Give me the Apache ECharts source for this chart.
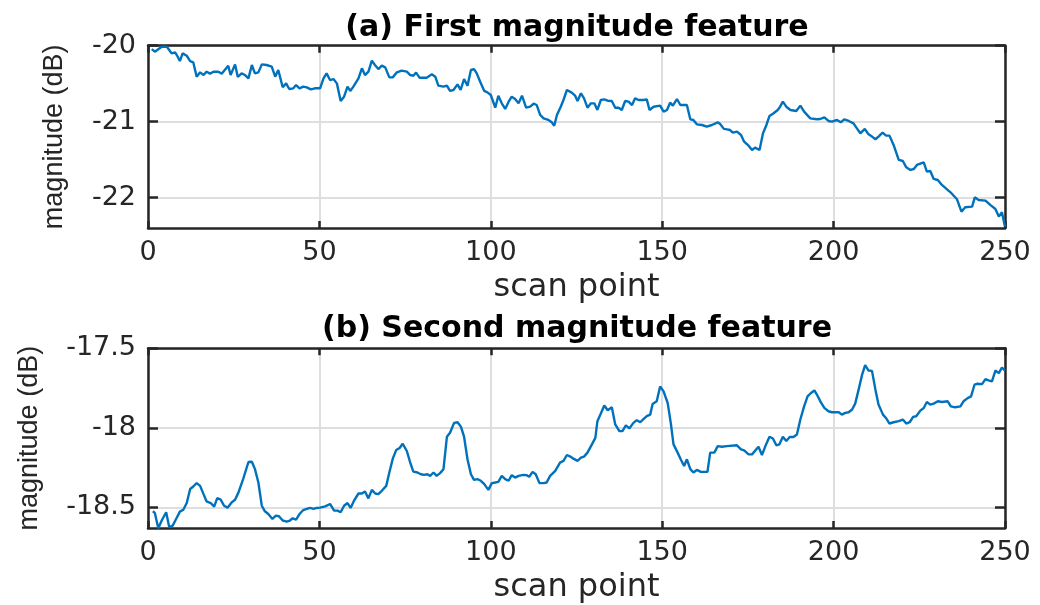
<!DOCTYPE html>
<html>
<head>
<meta charset="utf-8">
<script src="https://cdn.jsdelivr.net/npm/echarts@6/dist/echarts.min.js"></script>
<style>
html,body{margin:0;padding:0;background:#fff;}
#chart{width:1040px;height:605px;}
</style>
</head>
<body>
<div id="chart"></div>
<script>
// ---- data ----
const titleTop = '(a) First magnitude feature';
const titleBottom = '(b) Second magnitude feature';
const xName = 'scan point';
const yName = 'magnitude (dB)';
const xTicks = [0, 50, 100, 150, 200, 250];
const yTicksTop = [-22, -21, -20];
const yTicksBottom = [-18.5, -18, -17.5];

const scanTop = [1.1,2.0,4.0,5.5,6.9,7.9,8.4,9.3,10.1,11.3,12.3,13.2,14.2,15.2,16.2,17.1,18.1,19.1,20.5,21.5,23.4,24.1,25.4,26.2,27.3,28.3,29.3,30.3,31.2,32.2,33.2,34.6,36.1,37.1,38.0,39.3,40.3,41.2,42.4,43.2,44.2,45.3,46.3,47.5,48.7,50.2,51.2,52.1,53.1,54.1,55.1,56.2,57.2,58.2,59.0,59.9,61.4,62.4,63.3,64.3,65.3,66.2,67.2,68.2,69.2,70.4,71.4,72.6,74.0,75.5,76.5,77.4,78.2,79.2,81.3,82.8,83.8,84.7,86.2,87.2,88.1,89.1,90.3,91.2,92.2,93.2,94.2,95.1,95.9,96.9,98.1,99.0,100.0,101.3,102.2,103.2,104.2,105.2,106.1,107.1,108.1,109.1,110.3,111.5,112.5,113.4,114.4,115.4,116.8,117.8,118.5,119.3,120.4,121.2,122.2,123.6,124.6,125.3,126.3,127.2,128.2,129.2,130.2,131.1,132.1,133.1,134.1,135.3,136.3,137.3,138.2,139.2,140.2,141.2,142.1,143.1,144.6,145.5,146.3,147.5,149.4,150.4,151.4,152.3,153.1,154.3,155.3,157.2,158.2,159.1,160.1,161.6,163.0,164.5,166.2,166.9,168.0,168.9,169.8,170.6,171.8,173.0,173.9,175.2,176.2,177.1,178.4,179.4,180.4,181.3,182.5,183.7,184.4,185.2,186.2,187.4,189.1,190.3,191.4,193.2,195.1,196.1,197.3,198.5,199.5,201.0,202.1,203.1,204.4,205.8,206.8,207.8,209.1,210.2,211.2,212.2,213.1,214.3,215.3,216.3,217.5,219.0,220.2,221.2,222.4,223.4,224.3,226.3,227.2,228.2,229.2,230.4,231.6,234.1,236.0,237.3,238.4,240.4,241.2,242.3,244.3,245.7,247.2,248.2,249.1,250.0];
const magTop = [-20.044,-20.079,-20.013,-20.013,-20.101,-20.088,-20.123,-20.202,-20.101,-20.132,-20.202,-20.219,-20.408,-20.351,-20.386,-20.342,-20.368,-20.342,-20.342,-20.368,-20.263,-20.386,-20.246,-20.412,-20.364,-20.386,-20.430,-20.254,-20.364,-20.351,-20.246,-20.254,-20.276,-20.408,-20.320,-20.548,-20.496,-20.570,-20.561,-20.518,-20.561,-20.539,-20.548,-20.575,-20.561,-20.561,-20.430,-20.364,-20.452,-20.439,-20.496,-20.728,-20.671,-20.539,-20.596,-20.539,-20.430,-20.298,-20.386,-20.342,-20.197,-20.254,-20.307,-20.263,-20.285,-20.417,-20.417,-20.351,-20.329,-20.342,-20.386,-20.395,-20.355,-20.421,-20.421,-20.377,-20.408,-20.526,-20.539,-20.526,-20.596,-20.583,-20.509,-20.583,-20.439,-20.526,-20.320,-20.307,-20.364,-20.474,-20.596,-20.614,-20.649,-20.816,-20.658,-20.759,-20.833,-20.737,-20.671,-20.702,-20.759,-20.658,-20.816,-20.803,-20.763,-20.781,-20.912,-20.956,-20.978,-21.009,-21.053,-20.912,-20.803,-20.715,-20.583,-20.618,-20.658,-20.728,-20.627,-20.693,-20.816,-20.759,-20.759,-20.846,-20.715,-20.706,-20.724,-20.728,-20.816,-20.816,-20.846,-20.728,-20.737,-20.781,-20.693,-20.715,-20.715,-20.706,-20.846,-20.803,-20.789,-20.868,-20.846,-20.750,-20.789,-20.702,-20.781,-20.781,-20.969,-20.978,-21.035,-21.044,-21.066,-21.044,-21.009,-21.030,-21.095,-21.101,-21.110,-21.145,-21.132,-21.175,-21.263,-21.316,-21.373,-21.342,-21.373,-21.154,-21.044,-20.925,-20.890,-20.846,-20.803,-20.737,-20.803,-20.846,-20.860,-20.789,-20.868,-20.956,-20.969,-20.965,-20.943,-20.991,-21.000,-20.978,-21.009,-20.969,-20.991,-21.022,-21.088,-21.154,-21.096,-21.167,-21.197,-21.232,-21.197,-21.145,-21.184,-21.184,-21.307,-21.504,-21.518,-21.601,-21.636,-21.623,-21.570,-21.535,-21.658,-21.649,-21.754,-21.768,-21.833,-21.930,-22.022,-22.184,-22.127,-22.118,-21.996,-22.031,-22.039,-22.096,-22.149,-22.250,-22.193,-22.382];

const scanBottom = [1.4,2.0,3.0,4.0,5.3,6.2,7.2,8.2,9.3,10.3,11.3,12.3,13.2,14.2,15.2,16.2,17.1,18.3,19.3,20.2,21.2,22.2,23.2,24.4,25.4,26.4,27.8,29.3,30.3,31.2,32.2,33.2,34.1,35.1,36.3,37.3,38.2,39.3,40.5,41.4,42.2,43.2,44.2,45.3,46.3,47.3,48.3,49.2,50.2,51.7,53.1,54.3,55.3,56.2,57.2,58.2,59.1,60.1,61.4,62.4,63.3,64.3,65.3,66.3,67.2,68.2,69.5,70.4,71.4,72.4,73.4,74.3,75.5,76.5,77.4,78.6,79.6,80.5,81.5,82.3,83.3,84.2,85.2,86.2,87.2,88.1,89.3,90.3,91.3,92.2,93.2,94.2,95.1,96.1,97.1,98.1,99.3,100.3,101.3,102.2,103.2,104.2,105.2,106.1,107.1,108.1,109.5,110.5,111.2,112.2,113.1,114.2,115.4,116.3,117.3,118.8,120.2,121.2,122.2,123.2,124.1,125.3,126.3,127.2,128.2,129.5,130.5,131.1,132.1,133.1,134.1,135.3,136.3,137.5,138.4,139.4,140.4,141.6,142.6,143.6,144.6,145.5,146.5,147.2,148.4,149.4,150.4,151.6,152.5,153.3,154.5,155.5,156.4,157.2,158.2,159.1,160.1,161.3,163.2,164.0,165.2,166.2,167.4,168.9,171.8,173.0,173.9,175.2,176.2,178.1,179.1,180.1,181.3,182.3,183.3,184.2,185.2,186.2,187.2,188.3,189.3,190.3,191.4,192.4,193.4,194.4,195.3,196.3,197.3,198.5,199.5,200.5,201.5,202.4,203.4,204.4,205.4,206.3,207.3,208.3,209.2,210.2,211.2,212.2,213.1,214.4,215.4,216.3,217.5,219.0,220.2,221.2,222.2,223.2,224.1,225.3,226.3,227.2,228.2,229.2,230.4,231.6,233.3,234.2,235.5,237.0,237.9,239.1,240.1,241.1,242.0,243.3,244.3,245.2,246.2,247.2,248.2,249.1,250.0];
const magBottom = [-18.525,-18.535,-18.631,-18.583,-18.531,-18.625,-18.615,-18.573,-18.527,-18.515,-18.473,-18.385,-18.369,-18.348,-18.365,-18.417,-18.463,-18.473,-18.496,-18.442,-18.452,-18.490,-18.502,-18.469,-18.452,-18.406,-18.319,-18.215,-18.213,-18.260,-18.344,-18.490,-18.525,-18.542,-18.573,-18.552,-18.556,-18.583,-18.590,-18.583,-18.569,-18.577,-18.542,-18.517,-18.510,-18.504,-18.510,-18.504,-18.502,-18.494,-18.479,-18.521,-18.521,-18.531,-18.490,-18.473,-18.504,-18.458,-18.413,-18.413,-18.400,-18.444,-18.390,-18.413,-18.417,-18.396,-18.365,-18.281,-18.194,-18.140,-18.127,-18.100,-18.146,-18.219,-18.275,-18.281,-18.292,-18.296,-18.292,-18.302,-18.281,-18.302,-18.285,-18.260,-18.056,-18.031,-17.969,-17.965,-17.994,-18.056,-18.198,-18.292,-18.327,-18.323,-18.333,-18.354,-18.390,-18.348,-18.344,-18.340,-18.302,-18.323,-18.333,-18.298,-18.313,-18.302,-18.296,-18.298,-18.308,-18.277,-18.292,-18.348,-18.348,-18.344,-18.302,-18.271,-18.219,-18.208,-18.171,-18.181,-18.194,-18.208,-18.188,-18.181,-18.156,-18.104,-18.063,-17.958,-17.910,-17.860,-17.890,-17.871,-17.979,-18.021,-18.021,-17.985,-18.004,-17.969,-17.952,-17.965,-17.944,-17.927,-17.917,-17.850,-17.833,-17.740,-17.771,-17.844,-17.969,-18.104,-18.156,-18.202,-18.240,-18.198,-18.260,-18.281,-18.265,-18.277,-18.277,-18.156,-18.156,-18.115,-18.119,-18.115,-18.110,-18.135,-18.142,-18.167,-18.167,-18.119,-18.171,-18.115,-18.056,-18.067,-18.110,-18.104,-18.056,-18.083,-18.058,-18.058,-18.042,-17.948,-17.865,-17.802,-17.781,-17.765,-17.798,-17.840,-17.875,-17.896,-17.902,-17.902,-17.902,-17.917,-17.906,-17.902,-17.885,-17.848,-17.760,-17.667,-17.606,-17.640,-17.642,-17.760,-17.854,-17.917,-17.942,-17.973,-17.965,-17.958,-17.948,-17.973,-17.965,-17.931,-17.927,-17.892,-17.875,-17.838,-17.854,-17.848,-17.833,-17.838,-17.833,-17.865,-17.871,-17.865,-17.833,-17.813,-17.802,-17.729,-17.723,-17.725,-17.694,-17.702,-17.708,-17.640,-17.656,-17.621,-17.640];

// ---- chart ----
const AX = '#262626';
const GRIDC = '#dedede';
const LINEC = '#0072BD';
const tickFont = { fontFamily: 'DejaVu Sans', fontSize: 27, color: AX };

function pairs(xs, ys) { return xs.map((x, i) => [x, ys[i]]); }

function xAxes(gi) {
  return [
    { gridIndex: gi, type: 'value', position: 'bottom', min: 0, max: 250, interval: 50,
      name: xName, nameLocation: 'middle', nameGap: 44,
      nameTextStyle: { fontFamily: 'DejaVu Sans', fontSize: 32, color: AX },
      axisLine: { show: true, onZero: false, lineStyle: { color: AX, width: 2.5 } },
      axisTick: { show: true, inside: true, length: 7, lineStyle: { color: AX, width: 2.5 } },
      axisLabel: Object.assign({ margin: 11, customValues: xTicks }, tickFont),
      splitLine: { show: true, lineStyle: { color: GRIDC, width: 2 } } },
    { gridIndex: gi, type: 'value', position: 'top', min: 0, max: 250, interval: 50,
      axisLine: { show: true, onZero: false, lineStyle: { color: AX, width: 2.5 } },
      axisTick: { show: true, inside: true, length: 7, lineStyle: { color: AX, width: 2.5 } },
      axisLabel: { show: false }, splitLine: { show: false } }
  ];
}
function yAxes(gi, mn, mx, ticks, gap) {
  return [
    { gridIndex: gi, type: 'value', position: 'left', min: mn, max: mx,
      name: yName, nameLocation: 'middle', nameGap: gap,
      nameTextStyle: { fontFamily: 'Liberation Sans', fontSize: 27, color: AX },
      axisLine: { show: true, onZero: false, lineStyle: { color: AX, width: 2.5 } },
      axisTick: { show: true, inside: true, length: 10, customValues: ticks, lineStyle: { color: AX, width: 2.5 } },
      axisLabel: Object.assign({ margin: 12, customValues: ticks }, tickFont),
      splitLine: { show: true, lineStyle: { color: GRIDC, width: 2 } } },
    { gridIndex: gi, type: 'value', position: 'right', min: mn, max: mx,
      axisLine: { show: true, onZero: false, lineStyle: { color: AX, width: 2.5 } },
      axisTick: { show: true, inside: true, length: 10, customValues: ticks, lineStyle: { color: AX, width: 2.5 } },
      axisLabel: { show: false }, splitLine: { show: false } }
  ];
}

const chart = echarts.init(document.getElementById('chart'), null, { renderer: 'canvas' });
chart.setOption({
  animation: false,
  backgroundColor: '#ffffff',
  title: [
    { text: titleTop, left: 577, top: 13, textAlign: 'center', padding: 0,
      textStyle: { fontFamily: 'DejaVu Sans', fontWeight: 'bold', fontSize: 30, color: '#000' } },
    { text: titleBottom, left: 577, top: 314, textAlign: 'center', padding: 0,
      textStyle: { fontFamily: 'DejaVu Sans', fontWeight: 'bold', fontSize: 30, color: '#000' } }
  ],
  grid: [
    { left: 148, right: 35, top: 45.7, height: 182.3, containLabel: false },
    { left: 148, right: 35, top: 348.3, height: 181, containLabel: false }
  ],
  xAxis: [].concat(xAxes(0), xAxes(1)),
  yAxis: [].concat(yAxes(0, -22.4, -20, yTicksTop, 80), yAxes(1, -18.63, -17.5, yTicksBottom, 105)),
  series: [
    { type: 'line', xAxisIndex: 0, yAxisIndex: 0, data: pairs(scanTop, magTop),
      showSymbol: false, clip: true, lineStyle: { color: LINEC, width: 2.4 }, z: 1 },
    { type: 'line', xAxisIndex: 2, yAxisIndex: 2, data: pairs(scanBottom, magBottom),
      showSymbol: false, clip: true, lineStyle: { color: LINEC, width: 2.4 }, z: 1 }
  ]
});
</script>
</body>
</html>
